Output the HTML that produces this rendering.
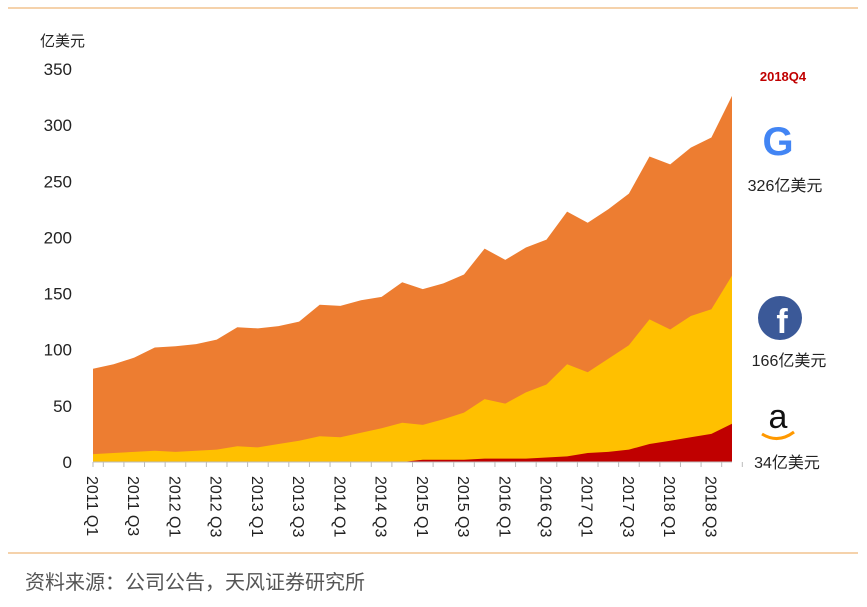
<!DOCTYPE html>
<html><head><meta charset="utf-8"><style>
body{margin:0;background:#fff;width:867px;height:602px;overflow:hidden;font-family:"Liberation Sans","Noto Sans CJK SC",sans-serif}
</style></head><body>
<svg id="s" width="867" height="602" xmlns="http://www.w3.org/2000/svg" font-family="Liberation Sans, Noto Sans CJK SC, sans-serif">
<line x1="8" y1="8" x2="858" y2="8" stroke="#f2c48f" stroke-width="1.5"/>
<line x1="8" y1="553" x2="858" y2="553" stroke="#f2c48f" stroke-width="1.5"/>
<text x="40" y="46" font-size="15" fill="#222">亿美元</text>
<g id="g"></g>
<text x="783" y="81" font-size="13" font-weight="bold" fill="#c00000" text-anchor="middle">2018Q4</text>
<text x="778" y="155" font-size="40" font-weight="bold" fill="#4285f4" text-anchor="middle">G</text>
<text x="785" y="191" font-size="16" fill="#222" text-anchor="middle">326亿美元</text>
<circle cx="780" cy="318" r="22" fill="#3b5998"/>
<text x="782" y="333" font-size="34" font-weight="bold" fill="#fff" text-anchor="middle">f</text>
<text x="789" y="366" font-size="16" fill="#222" text-anchor="middle">166亿美元</text>
<text x="778" y="428" font-size="34" fill="#111" text-anchor="middle">a</text>
<path d="M762 434 Q778 444 794 432" stroke="#f90" stroke-width="3" fill="none"/>
<text x="787" y="468" font-size="16" fill="#222" text-anchor="middle">34亿美元</text>
<text x="25" y="589" font-size="20" fill="#555">资料来源：公司公告，天风证券研究所</text>
</svg>
<script>
var T=[83,87,93,102,103,105,109,120,119,121,125,140,139,144,147,160,154,159,167,190,180,191,198,223,213,225,239,272,265,280,289,326];
var Y=[7,8,9,10,9,10,11,14,13,16,19,23,22,26,30,35,33,38,44,56,52,62,69,87,80,92,104,127,118,130,136,166];
var R=[0,0,0,0,0,0,0,0,0,0,0,0,0,0,0,0,2,2,2,3,3,3,4,5,8,9,11,16,19,22,25,34];
var x0=93,dx=(732-93)/31,b=462,k=1.123;
function X(i){return x0+i*dx}function V(v){return b-v*k}
function area(a,c){var d="M"+x0+" "+b;for(var i=0;i<32;i++)d+=" L"+X(i).toFixed(1)+" "+V(a[i]).toFixed(1);d+=" L732 "+b+"Z";return '<path d="'+d+'" fill="'+c+'"/>'}
var h=area(T,"#ED7D31")+area(Y,"#FFC000")+area(R,"#C00000");
h+='<line x1="'+x0+'" y1="'+b+'" x2="732" y2="'+b+'" stroke="#bbb"/>';
for(var i=0;i<=32;i++){var x=x0+(i-0.5)*dx;if(i==0)x=x0;h+='<line x1="'+x+'" y1="'+b+'" x2="'+x+'" y2="'+(b+5)+'" stroke="#bbb"/>';}
for(var v=0;v<=350;v+=50)h+='<text x="72" y="'+(V(v)+6)+'" font-size="17" fill="#222" text-anchor="end">'+v+'</text>';
var L=["2011 Q1","2011 Q3","2012 Q1","2012 Q3","2013 Q1","2013 Q3","2014 Q1","2014 Q3","2015 Q1","2015 Q3","2016 Q1","2016 Q3","2017 Q1","2017 Q3","2018 Q1","2018 Q3"];
for(var j=0;j<16;j++){var x=X(2*j)-6;h+='<text transform="translate('+x+',476) rotate(90)" font-size="16" fill="#222">'+L[j]+'</text>';}
document.getElementById("g").innerHTML=h;
</script>
</body></html>
